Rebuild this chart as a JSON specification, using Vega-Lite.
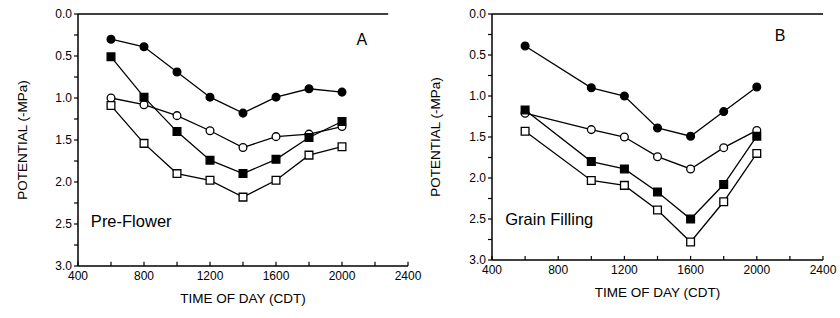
{
  "$schema": "https://vega.github.io/schema/vega-lite/v6.json",
  "background": "white",
  "padding": {"left": 16, "top": 8, "right": 0, "bottom": 5},
  "spacing": 7,
  "config": {
    "view": {"stroke": null},
    "font": "Liberation Sans",
    "text": {"font": "Liberation Sans", "color": "black"}
  },
  "datasets": {
    "A": [
      {"time": 600, "series": "fc", "value": 0.30}, {"time": 800, "series": "fc", "value": 0.39},
      {"time": 1000, "series": "fc", "value": 0.69}, {"time": 1200, "series": "fc", "value": 0.99},
      {"time": 1400, "series": "fc", "value": 1.18}, {"time": 1600, "series": "fc", "value": 0.99},
      {"time": 1800, "series": "fc", "value": 0.89}, {"time": 2000, "series": "fc", "value": 0.93},
      {"time": 600, "series": "oc", "value": 1.00}, {"time": 800, "series": "oc", "value": 1.08},
      {"time": 1000, "series": "oc", "value": 1.21}, {"time": 1200, "series": "oc", "value": 1.39},
      {"time": 1400, "series": "oc", "value": 1.59}, {"time": 1600, "series": "oc", "value": 1.46},
      {"time": 1800, "series": "oc", "value": 1.43}, {"time": 2000, "series": "oc", "value": 1.34},
      {"time": 600, "series": "fs", "value": 0.51}, {"time": 800, "series": "fs", "value": 0.99},
      {"time": 1000, "series": "fs", "value": 1.40}, {"time": 1200, "series": "fs", "value": 1.74},
      {"time": 1400, "series": "fs", "value": 1.90}, {"time": 1600, "series": "fs", "value": 1.73},
      {"time": 1800, "series": "fs", "value": 1.47}, {"time": 2000, "series": "fs", "value": 1.28},
      {"time": 600, "series": "os", "value": 1.09}, {"time": 800, "series": "os", "value": 1.54},
      {"time": 1000, "series": "os", "value": 1.90}, {"time": 1200, "series": "os", "value": 1.98},
      {"time": 1400, "series": "os", "value": 2.18}, {"time": 1600, "series": "os", "value": 1.98},
      {"time": 1800, "series": "os", "value": 1.68}, {"time": 2000, "series": "os", "value": 1.58}
    ],
    "B": [
      {"time": 600, "series": "fc", "value": 0.39}, {"time": 1000, "series": "fc", "value": 0.90},
      {"time": 1200, "series": "fc", "value": 1.00}, {"time": 1400, "series": "fc", "value": 1.39},
      {"time": 1600, "series": "fc", "value": 1.49}, {"time": 1800, "series": "fc", "value": 1.19},
      {"time": 2000, "series": "fc", "value": 0.89},
      {"time": 600, "series": "oc", "value": 1.21}, {"time": 1000, "series": "oc", "value": 1.41},
      {"time": 1200, "series": "oc", "value": 1.50}, {"time": 1400, "series": "oc", "value": 1.74},
      {"time": 1600, "series": "oc", "value": 1.89}, {"time": 1800, "series": "oc", "value": 1.63},
      {"time": 2000, "series": "oc", "value": 1.42},
      {"time": 600, "series": "fs", "value": 1.17}, {"time": 1000, "series": "fs", "value": 1.80},
      {"time": 1200, "series": "fs", "value": 1.89}, {"time": 1400, "series": "fs", "value": 2.17},
      {"time": 1600, "series": "fs", "value": 2.50}, {"time": 1800, "series": "fs", "value": 2.08},
      {"time": 2000, "series": "fs", "value": 1.49},
      {"time": 600, "series": "os", "value": 1.43}, {"time": 1000, "series": "os", "value": 2.03},
      {"time": 1200, "series": "os", "value": 2.09}, {"time": 1400, "series": "os", "value": 2.39},
      {"time": 1600, "series": "os", "value": 2.78}, {"time": 1800, "series": "os", "value": 2.29},
      {"time": 2000, "series": "os", "value": 1.70}
    ],
    "one": [{}],
    "xticks": [{"t": 400}, {"t": 600}, {"t": 800}, {"t": 1000}, {"t": 1200}, {"t": 1400}, {"t": 1600}, {"t": 1800}, {"t": 2000}, {"t": 2200}, {"t": 2400}],
    "yticks": [{"t": 0}, {"t": 0.25}, {"t": 0.5}, {"t": 0.75}, {"t": 1}, {"t": 1.25}, {"t": 1.5}, {"t": 1.75}, {"t": 2}, {"t": 2.25}, {"t": 2.5}, {"t": 2.75}, {"t": 3}],
    "xlabels": [{"t": 400}, {"t": 800}, {"t": 1200}, {"t": 1600}, {"t": 2000}, {"t": 2400}],
    "ylabels": [{"t": 0}, {"t": 0.5}, {"t": 1}, {"t": 1.5}, {"t": 2}, {"t": 2.5}, {"t": 3}]
  },
  "hconcat": [
    {
      "width": 330, "height": 252,
      "layer": [
        {
          "data": {"name": "A"},
          "mark": {"type": "line", "color": "black", "strokeWidth": 1.3},
          "encoding": {
            "x": {"field": "time", "type": "quantitative", "scale": {"domain": [400, 2400], "nice": false, "zero": false}, "axis": null},
            "y": {"field": "value", "type": "quantitative", "scale": {"domain": [0, 3], "reverse": true, "nice": false, "zero": false}, "axis": null},
            "detail": {"field": "series"}
          }
        },
        {"data": {"name": "one"}, "mark": {"type": "rule", "color": "black", "strokeWidth": 1.5},
          "encoding": {"x": {"datum": 400, "type": "quantitative", "scale": {"domain": [400, 2400], "nice": false, "zero": false}, "axis": null}, "y": {"datum": 0, "type": "quantitative", "axis": null}, "y2": {"datum": 3}}},
        {"data": {"name": "one"}, "mark": {"type": "rule", "color": "black", "strokeWidth": 1.5},
          "encoding": {"x": {"datum": 400, "type": "quantitative", "axis": null}, "x2": {"datum": 2400}, "y": {"datum": 3, "type": "quantitative", "axis": null}}},
        {"data": {"name": "one"}, "mark": {"type": "rule", "color": "black", "strokeWidth": 1.5},
          "encoding": {"x": {"datum": 400, "type": "quantitative", "axis": null}, "x2": {"datum": 2280}, "y": {"datum": 0, "type": "quantitative", "axis": null}}},
        {"data": {"name": "xticks"}, "mark": {"type": "rule", "color": "black", "strokeWidth": 1.2},
          "encoding": {"x": {"field": "t", "type": "quantitative", "axis": null}, "y": {"datum": 3, "type": "quantitative", "axis": null}, "y2": {"datum": 2.95}}},
        {"data": {"name": "yticks"}, "mark": {"type": "rule", "color": "black", "strokeWidth": 1.2},
          "encoding": {"y": {"field": "t", "type": "quantitative", "axis": null}, "x": {"datum": 400, "type": "quantitative", "axis": null}, "x2": {"datum": 376}}},
        {"data": {"name": "xlabels"}, "mark": {"type": "text", "fontSize": 12, "align": "center", "baseline": "top", "dy": 5},
          "encoding": {"x": {"field": "t", "type": "quantitative", "axis": null}, "y": {"datum": 3, "type": "quantitative", "axis": null}, "text": {"field": "t", "type": "quantitative", "format": "d"}}},
        {"data": {"name": "ylabels"}, "mark": {"type": "text", "fontSize": 12, "align": "right", "baseline": "middle", "dx": -6},
          "encoding": {"y": {"field": "t", "type": "quantitative", "axis": null}, "x": {"datum": 400, "type": "quantitative", "axis": null}, "text": {"field": "t", "type": "quantitative", "format": ".1f"}}},
        {"data": {"name": "one"}, "mark": {"type": "text", "text": "TIME  OF  DAY  (CDT)", "fontSize": 13.5, "align": "center", "baseline": "middle", "dy": 33},
          "encoding": {"x": {"datum": 1400, "type": "quantitative", "axis": null}, "y": {"datum": 3, "type": "quantitative", "axis": null}}},
        {"data": {"name": "one"}, "mark": {"type": "text", "text": "POTENTIAL   (-MPa)", "fontSize": 13.5, "align": "center", "baseline": "middle", "angle": 270},
          "encoding": {"x": {"datum": 67, "type": "quantitative", "axis": null}, "y": {"datum": 1.5, "type": "quantitative", "axis": null}}},
        {
          "data": {"name": "A"},
          "mark": {"type": "point", "stroke": "black", "strokeWidth": 1.3, "opacity": 1, "size": 60},
          "encoding": {
            "x": {"field": "time", "type": "quantitative", "axis": null},
            "y": {"field": "value", "type": "quantitative", "axis": null},
            "shape": {"field": "series", "scale": {"domain": ["fc","oc","fs","os"], "range": ["circle","circle","square","square"]}, "legend": null},
            "fill": {"field": "series", "scale": {"domain": ["fc","oc","fs","os"], "range": ["black","white","black","white"]}, "legend": null}
          }
        },
        {"data": {"name": "one"}, "mark": {"type": "text", "text": "A", "fontSize": 16, "align": "center", "baseline": "middle"},
          "encoding": {"x": {"datum": 2120, "type": "quantitative", "axis": null}, "y": {"datum": 0.31, "type": "quantitative", "axis": null}}},
        {"data": {"name": "one"}, "mark": {"type": "text", "text": "Pre-Flower", "fontSize": 16.5, "align": "left", "baseline": "middle"},
          "encoding": {"x": {"datum": 478, "type": "quantitative", "axis": null}, "y": {"datum": 2.48, "type": "quantitative", "axis": null}}}
      ]
    },
    {
      "width": 331, "height": 246,
      "layer": [
        {
          "data": {"name": "B"},
          "mark": {"type": "line", "color": "black", "strokeWidth": 1.3},
          "encoding": {
            "x": {"field": "time", "type": "quantitative", "scale": {"domain": [400, 2400], "nice": false, "zero": false}, "axis": null},
            "y": {"field": "value", "type": "quantitative", "scale": {"domain": [0, 3], "reverse": true, "nice": false, "zero": false}, "axis": null},
            "detail": {"field": "series"}
          }
        },
        {"data": {"name": "one"}, "mark": {"type": "rule", "color": "black", "strokeWidth": 1.5},
          "encoding": {"x": {"datum": 400, "type": "quantitative", "scale": {"domain": [400, 2400], "nice": false, "zero": false}, "axis": null}, "y": {"datum": 0, "type": "quantitative", "axis": null}, "y2": {"datum": 3}}},
        {"data": {"name": "one"}, "mark": {"type": "rule", "color": "black", "strokeWidth": 1.5},
          "encoding": {"x": {"datum": 400, "type": "quantitative", "axis": null}, "x2": {"datum": 2400}, "y": {"datum": 3, "type": "quantitative", "axis": null}}},
        {"data": {"name": "one"}, "mark": {"type": "rule", "color": "black", "strokeWidth": 1.5},
          "encoding": {"x": {"datum": 400, "type": "quantitative", "axis": null}, "x2": {"datum": 2400}, "y": {"datum": 0, "type": "quantitative", "axis": null}}},
        {"data": {"name": "xticks"}, "mark": {"type": "rule", "color": "black", "strokeWidth": 1.2},
          "encoding": {"x": {"field": "t", "type": "quantitative", "axis": null}, "y": {"datum": 3, "type": "quantitative", "axis": null}, "y2": {"datum": 2.95}}},
        {"data": {"name": "yticks"}, "mark": {"type": "rule", "color": "black", "strokeWidth": 1.2},
          "encoding": {"y": {"field": "t", "type": "quantitative", "axis": null}, "x": {"datum": 400, "type": "quantitative", "axis": null}, "x2": {"datum": 376}}},
        {"data": {"name": "xlabels"}, "mark": {"type": "text", "fontSize": 12, "align": "center", "baseline": "top", "dy": 5},
          "encoding": {"x": {"field": "t", "type": "quantitative", "axis": null}, "y": {"datum": 3, "type": "quantitative", "axis": null}, "text": {"field": "t", "type": "quantitative", "format": "d"}}},
        {"data": {"name": "ylabels"}, "mark": {"type": "text", "fontSize": 12, "align": "right", "baseline": "middle", "dx": -6},
          "encoding": {"y": {"field": "t", "type": "quantitative", "axis": null}, "x": {"datum": 400, "type": "quantitative", "axis": null}, "text": {"field": "t", "type": "quantitative", "format": ".1f"}}},
        {"data": {"name": "one"}, "mark": {"type": "text", "text": "TIME  OF  DAY  (CDT)", "fontSize": 13.5, "align": "center", "baseline": "middle", "dy": 33},
          "encoding": {"x": {"datum": 1400, "type": "quantitative", "axis": null}, "y": {"datum": 3, "type": "quantitative", "axis": null}}},
        {"data": {"name": "one"}, "mark": {"type": "text", "text": "POTENTIAL   (-MPa)", "fontSize": 13.5, "align": "center", "baseline": "middle", "angle": 270},
          "encoding": {"x": {"datum": 62, "type": "quantitative", "axis": null}, "y": {"datum": 1.5, "type": "quantitative", "axis": null}}},
        {
          "data": {"name": "B"},
          "mark": {"type": "point", "stroke": "black", "strokeWidth": 1.3, "opacity": 1, "size": 60},
          "encoding": {
            "x": {"field": "time", "type": "quantitative", "axis": null},
            "y": {"field": "value", "type": "quantitative", "axis": null},
            "shape": {"field": "series", "scale": {"domain": ["fc","oc","fs","os"], "range": ["circle","circle","square","square"]}, "legend": null},
            "fill": {"field": "series", "scale": {"domain": ["fc","oc","fs","os"], "range": ["black","white","black","white"]}, "legend": null}
          }
        },
        {"data": {"name": "one"}, "mark": {"type": "text", "text": "B", "fontSize": 16, "align": "center", "baseline": "middle"},
          "encoding": {"x": {"datum": 2140, "type": "quantitative", "axis": null}, "y": {"datum": 0.27, "type": "quantitative", "axis": null}}},
        {"data": {"name": "one"}, "mark": {"type": "text", "text": "Grain  Filling", "fontSize": 16.5, "align": "left", "baseline": "middle"},
          "encoding": {"x": {"datum": 480, "type": "quantitative", "axis": null}, "y": {"datum": 2.51, "type": "quantitative", "axis": null}}}
      ]
    }
  ]
}
